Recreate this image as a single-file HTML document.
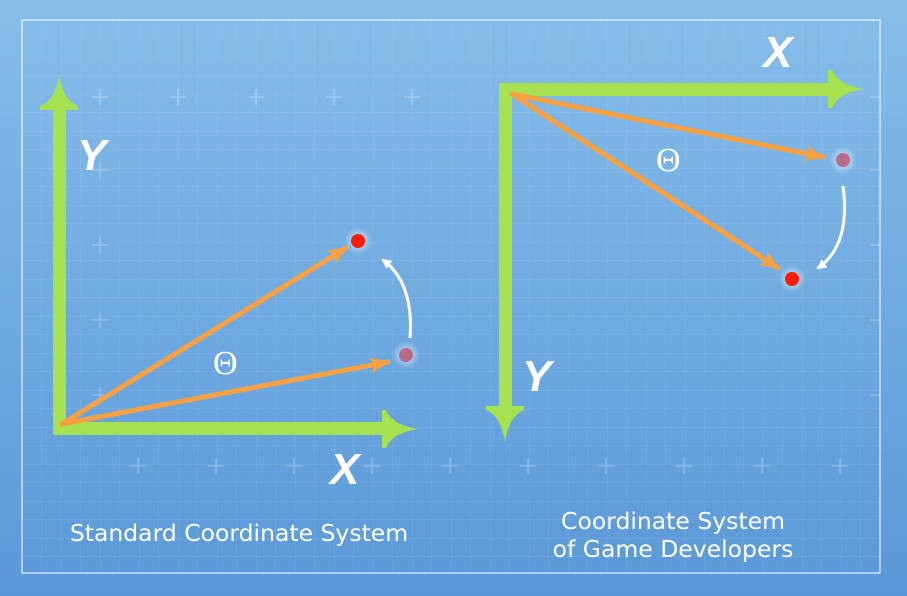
<!DOCTYPE html>
<html><head><style>
html,body{margin:0;padding:0;}
body{width:907px;height:596px;overflow:hidden;background:linear-gradient(#86bde9,#5a98d8);font-family:"Liberation Sans",sans-serif;}
svg{display:block;}
</style></head><body>
<svg width="907" height="596" viewBox="0 0 907 596" xmlns="http://www.w3.org/2000/svg">
<defs>
<pattern id="g" x="22" y="20" width="19.5" height="18.5" patternUnits="userSpaceOnUse">
<path d="M0 0H19.5M0 0V18.5" stroke="#ffffff" stroke-opacity="0.13" stroke-width="1" fill="none"/>
</pattern>
<radialGradient id="glow"><stop offset="0" stop-color="#fff" stop-opacity="0.7"/><stop offset="1" stop-color="#fff" stop-opacity="0"/></radialGradient>
<marker id="oa" markerWidth="24" markerHeight="20" refX="18" refY="10" orient="auto" markerUnits="userSpaceOnUse"><path d="M0,2 L20,10 L0,18 L5,10 Z" fill="#f9a040"/></marker>
<marker id="wa" markerWidth="14" markerHeight="14" refX="8" refY="7" orient="auto" markerUnits="userSpaceOnUse"><path d="M0,2 L10,7 L0,12 Z" fill="#fff"/></marker>
</defs>
<rect x="22" y="20" width="858" height="553" fill="url(#g)" stroke="#fff" stroke-opacity="0.85" stroke-width="1.2"/>
<g stroke="#fff" stroke-opacity="0.25" stroke-width="1.5">
<path d="M92 97h16M100 89v16M170 97h16M178 89v16M248 97h16M256 89v16M326 97h16M334 89v16M404 97h16M412 89v16"/>
<path d="M92 170h16M100 162v16M92 245h16M100 237v16M92 320h16M100 312v16M92 395h16M100 387v16"/>
<path d="M130 466h16M138 458v16M208 466h16M216 458v16M286 466h16M294 458v16M364 466h16M372 458v16M442 466h16M450 458v16M520 466h16M528 458v16M598 466h16M606 458v16M676 466h16M684 458v16M754 466h16M762 458v16M832 466h16M840 458v16"/>
<path d="M870 97h10M870 170h10M870 245h10M870 320h10M870 395h10"/>
</g>
<g fill="#a6e24f">
<rect x="53" y="108" width="13" height="326"/>
<path d="M59 74 Q56 100 40 106 L40 110 L78 110 L78 106 Q62 100 59 74Z"/>
<rect x="54" y="422" width="336" height="13"/>
<path d="M418 429 Q392 425 386 410 L382 410 L382 448 L386 448 Q392 433 418 429Z"/>
<rect x="499" y="83" width="334" height="13"/>
<path d="M864 89 Q838 85 832 70 L828 70 L828 108 L832 108 Q838 93 864 89Z"/>
<rect x="499" y="83" width="13" height="325"/>
<path d="M505 442 Q501 416 486 410 L486 406 L524 406 L524 410 Q509 416 505 442Z"/>
</g>
<g stroke="#f9a040" stroke-width="5" fill="none" stroke-linecap="round" marker-end="url(#oa)">
<path d="M62 424 L346 248"/>
<path d="M62 424 L388 362"/>
<path d="M512 94 L823 157"/>
<path d="M512 94 L778 268"/>
</g>
<circle cx="358" cy="241" r="14" fill="url(#glow)"/><circle cx="358" cy="241" r="7" fill="#ff1a00"/>
<circle cx="406" cy="355" r="14" fill="url(#glow)"/><circle cx="406" cy="355" r="7" fill="#b86a88"/>
<circle cx="843" cy="160" r="14" fill="url(#glow)"/><circle cx="843" cy="160" r="7" fill="#b86a88"/>
<circle cx="792" cy="279" r="14" fill="url(#glow)"/><circle cx="792" cy="279" r="7" fill="#ff1a00"/>
<path d="M410 338 Q414 283 383 260" stroke="#fff" stroke-width="3" fill="none" marker-end="url(#wa)"/>
<path d="M843 186 Q851 245 818 268" stroke="#fff" stroke-width="3" fill="none" marker-end="url(#wa)"/>
<g fill="#fff" font-family="Liberation Sans, sans-serif" font-weight="bold" font-style="italic" font-size="44">
<text x="77" y="170">Y</text>
<text x="330" y="484">X</text>
<text x="763" y="67">X</text>
<text x="522" y="391">Y</text>
</g>
<g fill="#fff" font-family="Liberation Serif, serif" font-size="34">
<text x="213" y="374">Θ</text>
<text x="656" y="171">Θ</text>
</g>
<g fill="#fff" font-family="DejaVu Sans, sans-serif" font-size="23.5">
<text x="239" y="541" text-anchor="middle">Standard Coordinate System</text>
<text x="673" y="529" text-anchor="middle">Coordinate System</text>
<text x="673" y="557" text-anchor="middle">of Game Developers</text>
</g>
</svg>
</body></html>
